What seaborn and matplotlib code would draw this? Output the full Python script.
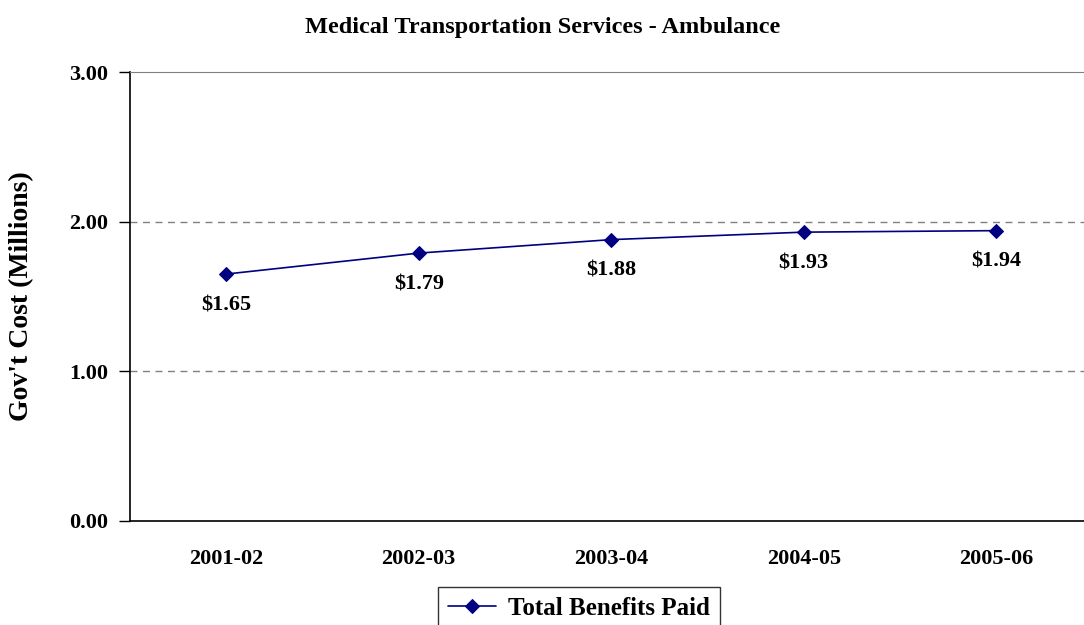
import pandas as pd
import matplotlib
matplotlib.use("Agg")
import matplotlib.pyplot as plt
import seaborn as sns

# Chart data
YEARS = ["2001-02", "2002-03", "2003-04", "2004-05", "2005-06"]
BENEFITS = [1.65, 1.79, 1.88, 1.93, 1.94]
Y_TICKS = [0.0, 1.0, 2.0, 3.0]

TITLE = "Medical Transportation Services - Ambulance"
Y_LABEL = "Gov't Cost (Millions)"
SERIES = "Total Benefits Paid"

NAVY = "#000080"
GRID_GRAY = "#808080"

sns.set_style("white")
plt.rcParams["font.family"] = ["Liberation Serif", "DejaVu Serif"]
plt.rcParams["font.weight"] = "bold"
plt.rcParams["text.color"] = "black"
plt.rcParams["xtick.color"] = "black"
plt.rcParams["ytick.color"] = "black"
plt.rcParams["axes.labelcolor"] = "black"

df = pd.DataFrame({"year": YEARS, "cost": BENEFITS, "series": SERIES})

fig = plt.figure(figsize=(10.84, 6.25), dpi=100)
ax = fig.add_axes([130 / 1084, 104 / 625, 1 - 130 / 1084, (521 - 72) / 625])

sns.lineplot(data=df, x="year", y="cost", sort=False, color=NAVY,
             marker="D", markersize=7.5, markeredgecolor=NAVY,
             linewidth=1.2, label=SERIES, ax=ax, legend=False)

# value labels under each point
for i, v in enumerate(BENEFITS):
    ax.annotate(f"${v:.2f}", xy=(i, v), xytext=(0, -31),
                textcoords="offset pixels", ha="center", va="center",
                fontsize=16, fontweight="bold", color="black")

ax.set_ylim(0, 3)
ax.set_xlim(-0.5, 4.456)
ax.set_yticks(Y_TICKS)
ax.set_yticklabels([f"{t:.2f}" for t in Y_TICKS], fontsize=16, fontweight="bold")
ax.set_xticks(range(len(YEARS)))
ax.set_xticklabels(YEARS, fontsize=16, fontweight="bold")
ax.set_xticks([0.5, 1.5, 2.5, 3.5], minor=True)
ax.tick_params(axis="x", which="major", length=0, pad=20)
ax.tick_params(axis="x", which="minor", length=8, width=1, color="black", direction="out")
ax.tick_params(axis="y", length=8, width=1, color="black", direction="out", pad=8, left=True)
ax.set_xlabel("")
ax.set_ylabel("")

for y in [1.0, 2.0]:
    ax.axhline(y, color=GRID_GRAY, linestyle=(0, (5, 4)), linewidth=1)

ax.spines["left"].set_color("black")
ax.spines["bottom"].set_color("black")
ax.spines["left"].set_linewidth(1.2)
ax.spines["bottom"].set_linewidth(1.2)
ax.spines["top"].set_color(GRID_GRAY)
ax.spines["right"].set_visible(False)

fig.text(543 / 1084, 1 - 27 / 625, TITLE, ha="center", va="center",
         fontsize=17.5, fontweight="bold", color="black")
fig.text(22 / 1084, 1 - 296 / 625, Y_LABEL, ha="center", va="center",
         rotation=90, fontsize=20, fontweight="bold", color="black")

handles, labels = ax.get_legend_handles_labels()
leg = fig.legend(handles, labels, loc="upper center", bbox_to_anchor=(579 / 1084, 38 / 625),
                 borderaxespad=0, frameon=True, fancybox=False, handlelength=1.9,
                 handletextpad=0.5, prop={"size": 18, "weight": "bold"}, borderpad=0.4)
leg.get_frame().set_edgecolor("black")
leg.get_frame().set_linewidth(1)

fig.savefig("out.png", dpi=100)
